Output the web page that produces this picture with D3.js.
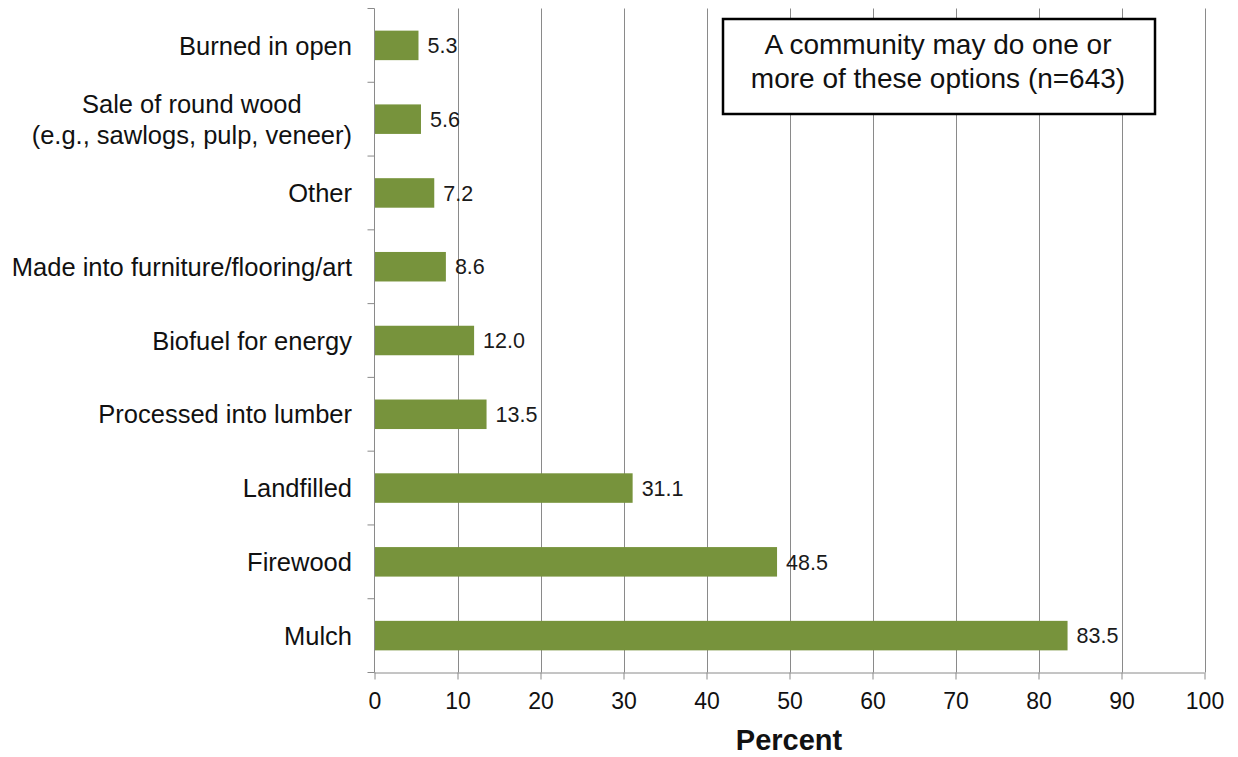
<!DOCTYPE html>
<html><head><meta charset="utf-8">
<script src="https://cdn.jsdelivr.net/npm/d3@7"></script>
<style>body{margin:0;background:#fff}svg{display:block}text{font-family:"Liberation Sans",Arial,sans-serif}</style>
</head><body><svg id="c" width="1238" height="757"></svg>
<script>
const categories = ["Burned in open","Sale of round wood\n(e.g., sawlogs, pulp, veneer)","Other","Made into furniture/flooring/art","Biofuel for energy","Processed into lumber","Landfilled","Firewood","Mulch"];
const values = [5.3,5.6,7.2,8.6,12.0,13.5,31.1,48.5,83.5];
const xTicks = [0,10,20,30,40,50,60,70,80,90,100];
const note = ["A community may do one or","more of these options (n=643)"];

const svg = d3.select("#c");
const L=374.5, R=1204.5, T=8.5, B=672.5;
const x = d3.scaleLinear().domain([0,100]).range([L,R]);
const y = d3.scaleBand().domain(categories).range([T,B]).paddingInner(0.6).paddingOuter(0.3);
const yb = d3.scaleBand().domain(categories).range([T,B]);

// gridlines
svg.append("g").selectAll("line").data(xTicks.slice(1)).join("line")
  .attr("x1",d=>Math.round(x(d))+0.5).attr("x2",d=>Math.round(x(d))+0.5)
  .attr("y1",T).attr("y2",B).attr("stroke","#8a8a8a").attr("stroke-width",1);

// bars
svg.append("g").selectAll("rect").data(values).join("rect")
  .attr("x",x(0)).attr("y",(d,i)=>y(categories[i]))
  .attr("width",d=>x(d)-x(0)).attr("height",y.bandwidth()).attr("fill","#77933c");

// value labels
svg.append("g").selectAll("text").data(values).join("text")
  .attr("x",d=>x(d)+9).attr("y",(d,i)=>y(categories[i])+y.bandwidth()/2)
  .attr("dy","0.36em").attr("font-size",21.5).attr("fill","#1a1a1a")
  .text(d=>d.toFixed(1));

// x axis
const xa = svg.append("g").attr("transform",`translate(0,${B})`)
  .call(d3.axisBottom(x).tickValues(xTicks).tickSize(7).tickPadding(13).tickFormat(d3.format("d")));
xa.select(".domain").attr("stroke","#8a8a8a").attr("d",`M${L},0.5H${R}`);
xa.selectAll(".tick line").attr("stroke","#8a8a8a");
xa.selectAll("text").attr("font-size",23).attr("fill","#111").attr("font-family","Liberation Sans, Arial, sans-serif");

// y axis line and ticks at band boundaries
svg.append("line").attr("x1",L).attr("x2",L).attr("y1",T).attr("y2",B).attr("stroke","#8a8a8a");
const bounds = categories.map(c=>yb(c)).concat([B]);
svg.append("g").selectAll("line").data(bounds).join("line")
  .attr("x1",L-7).attr("x2",L).attr("y1",d=>d).attr("y2",d=>d).attr("stroke","#8a8a8a");

// category labels (multi-line blocks are centred, block right edge at 352)
const RX = 352;
const cl = svg.append("g").selectAll("text").data(categories).join("text")
  .attr("font-size",25.5).attr("fill","#111")
  .attr("y",c=>yb(c)+yb.bandwidth()/2);
cl.each(function(c){
  const lines=c.split("\n"); const t=d3.select(this);
  if(lines.length===1){
    t.attr("text-anchor","end").attr("x",RX).attr("dy","0.36em").text(c);
  } else {
    const sp = lines.map((s,k)=>t.append("tspan")
      .attr("dy", k===0 ? `${0.36-(lines.length-1)*0.62}em` : "1.24em").text(s));
    const w = d3.max(sp.map(s=>s.node().getComputedTextLength()));
    t.attr("text-anchor","middle");
    sp.forEach(s=>s.attr("x",RX-w/2));
  }
});

// axis title
svg.append("text").attr("x",789).attr("y",750).attr("text-anchor","middle")
  .attr("font-size",29).attr("font-weight","bold").attr("fill","#111").text("Percent");

// note box
svg.append("rect").attr("x",723).attr("y",19).attr("width",432).attr("height",95)
  .attr("fill","#fff").attr("stroke","#000").attr("stroke-width",2.5);
svg.append("g").selectAll("text").data(note).join("text")
  .attr("x",938).attr("y",(d,i)=>54+i*34).attr("text-anchor","middle")
  .attr("font-size",28).attr("fill","#111").text(d=>d);
</script></body></html>
